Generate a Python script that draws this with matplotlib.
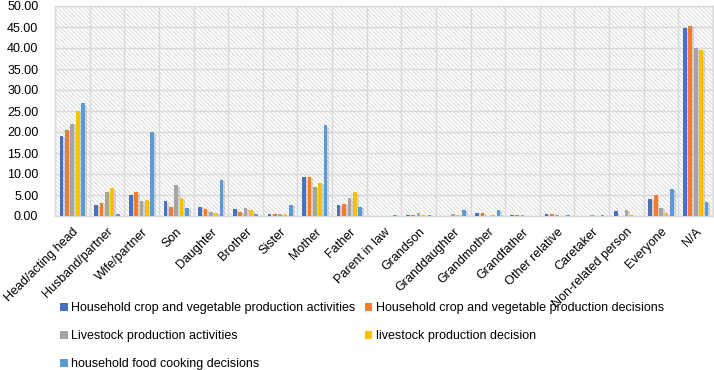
import numpy as np
import matplotlib
matplotlib.use("Agg")
import matplotlib.pyplot as plt
from matplotlib.ticker import FormatStrFormatter, MultipleLocator, FixedLocator

plt.rcParams['font.family'] = ['Liberation Sans', 'DejaVu Sans']
plt.rcParams['hatch.linewidth'] = 0.6
plt.rcParams['hatch.color'] = '#d4d4d4'

categories = ['Head/acting head', 'Husband/partner', 'Wife/partner', 'Son', 'Daughter',
              'Brother', 'Sister', 'Mother', 'Father', 'Parent in law', 'Grandson',
              'Granddaughter', 'Grandmother', 'Grandfather', 'Other relative', 'Caretaker',
              'Non-related person', 'Everyone', 'N/A']

series_names = ['Household crop and vegetable production activities',
                'Household crop and vegetable production decisions',
                'Livestock production activities',
                'livestock production decision',
                'household food cooking decisions']

crop_activities = [19.0, 2.6, 5.1, 3.5, 2.1, 1.7, 0.55, 9.4, 2.6, 0.0, 0.3, 0.0, 0.7, 0.3, 0.55, 0.0, 1.1, 4.0, 44.8]
crop_decisions = [20.5, 3.1, 5.6, 2.2, 1.7, 1.0, 0.55, 9.4, 2.9, 0.0, 0.3, 0.0, 0.8, 0.3, 0.4, 0.0, 0.0, 4.9, 45.2]
livestock_activities = [21.9, 5.6, 3.6, 7.3, 1.0, 1.9, 0.5, 7.0, 4.4, 0.0, 0.6, 0.5, 0.0, 0.2, 0.2, 0.2, 1.4, 2.0, 39.9]
livestock_decision = [25.0, 6.6, 3.9, 4.4, 0.8, 1.5, 0.55, 7.9, 5.6, 0.0, 0.3, 0.3, 0.3, 0.1, 0.1, 0.0, 0.3, 0.6, 39.5]
cooking_decisions = [26.8, 0.5, 19.9, 2.0, 8.6, 0.4, 2.6, 21.6, 2.2, 0.3, 0.3, 1.4, 1.4, 0.0, 0.2, 0.2, 0.0, 6.5, 3.4]

series = [crop_activities, crop_decisions, livestock_activities, livestock_decision, cooking_decisions]
colors = ['#4472C4', '#ED7D31', '#A5A5A5', '#FFC000', '#5B9BD5']

fig = plt.figure(figsize=(7.14, 3.70), dpi=100)
ax = fig.add_axes([55/714, 1-216/370, 658/714, 210/370])

# hatched plot area like the excel pattern fill
ax.patch.set_facecolor('white')
ax.patch.set_hatch('\\' * 8)
ax.patch.set_edgecolor('#d4d4d4')
ax.patch.set_linewidth(0)

x = np.arange(len(categories))
step = 0.155
width = 0.107
handles = []
for i, (vals, col, name) in enumerate(zip(series, colors, series_names)):
    pos = x + (i - 2) * step
    # soft shadow to the right of each bar
    ax.bar(pos + 0.05, np.maximum(np.array(vals) - 0.3, 0), width=width*1.1, bottom=0,
           color='#7f7f7f', alpha=0.28, linewidth=0, zorder=2)
    h = ax.bar(pos, vals, width=width, color=col, label=name, linewidth=0, zorder=3)
    handles.append(h)

ax.set_xlim(-0.5, len(categories) - 0.5)
ax.set_ylim(0, 50)
ax.yaxis.set_major_locator(MultipleLocator(5))
ax.yaxis.set_major_formatter(FormatStrFormatter('%.2f'))
ax.set_xticks(x)
ax.set_xticklabels(categories, rotation=45, ha='right', rotation_mode='anchor', fontsize=9)
ax.xaxis.set_minor_locator(FixedLocator(np.arange(-0.5, len(categories), 1.0)))
ax.grid(axis='y', which='major', color='#d9d9d9', linewidth=1.0, zorder=1)
ax.grid(axis='x', which='minor', color='#d9d9d9', linewidth=1.0, zorder=1)
ax.set_axisbelow(True)
ax.tick_params(axis='both', which='both', length=0, labelsize=9, colors='black')
ax.tick_params(axis='x', pad=7)
ax.tick_params(axis='y', pad=12)
for s in ax.spines.values():
    s.set_color('#d9d9d9')
    s.set_linewidth(1.0)

# legend filled row by row, as in the excel chart
order = [0, 2, 4, 1, 3]
fig.legend([handles[k] for k in order], [series_names[k] for k in order],
           loc='upper left', bbox_to_anchor=(60/714, 1-302/370), ncol=2, frameon=False,
           fontsize=9, handlelength=0.6, handleheight=0.6, handletextpad=0.3,
           columnspacing=0.75, labelspacing=1.3, borderpad=0, borderaxespad=0)

fig.savefig('out.png', dpi=100)
